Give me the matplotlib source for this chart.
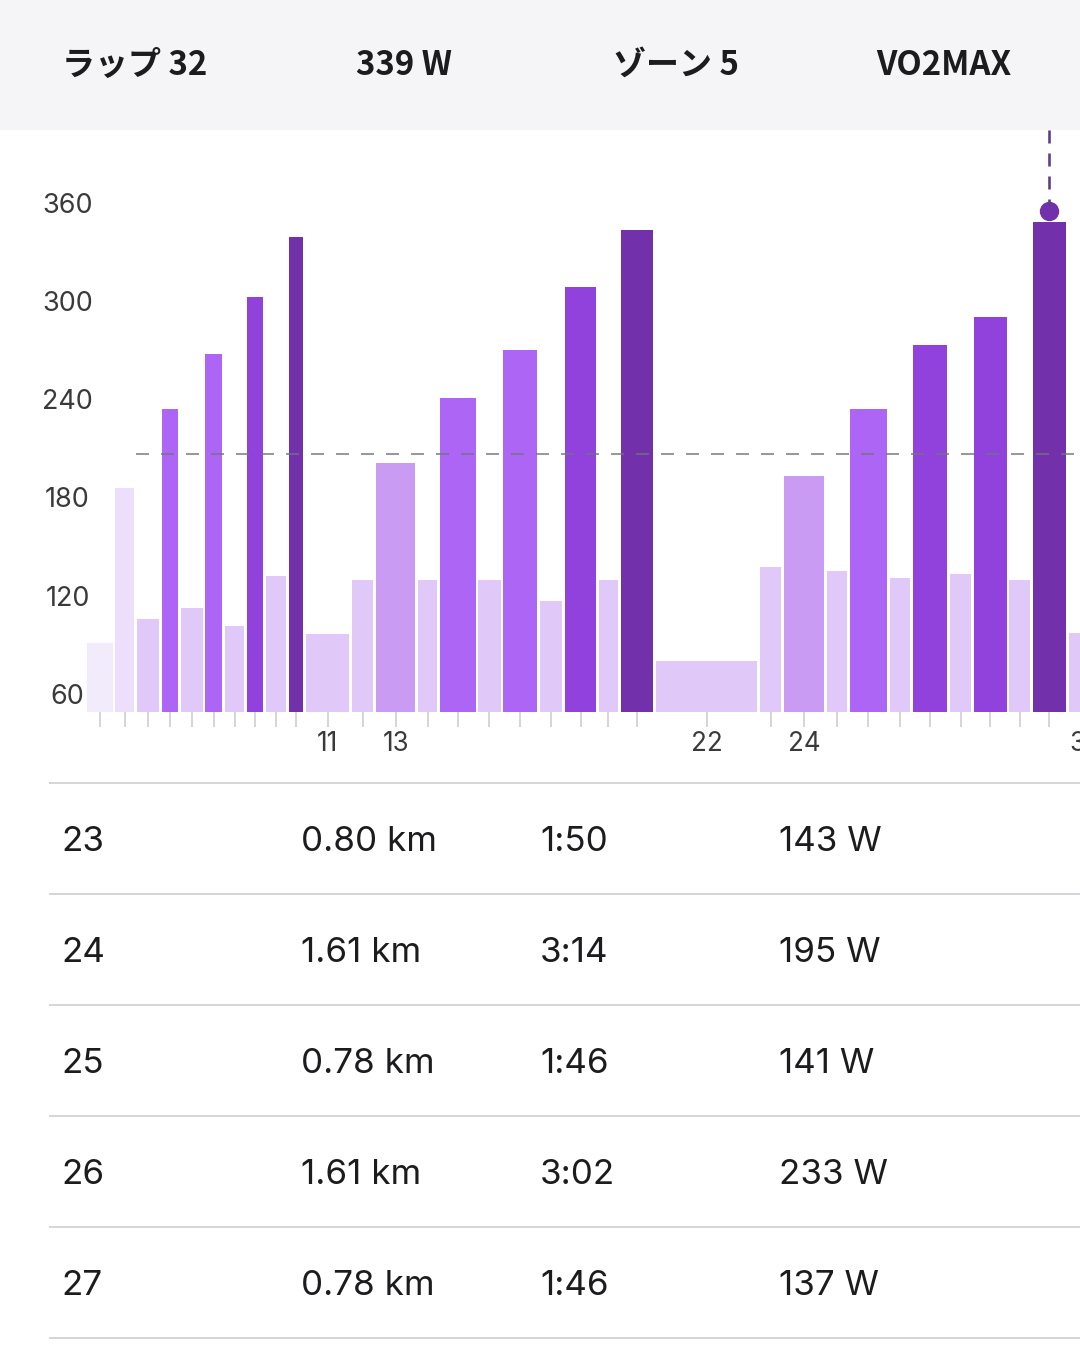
import matplotlib
matplotlib.use("Agg")
import matplotlib.pyplot as plt
import matplotlib.transforms as mtransforms
from matplotlib.patches import Rectangle
from matplotlib.lines import Line2D
import numpy as np

# ---------------- data ----------------
lap_numbers = list(range(1, 34))
lap_seconds = [128, 100, 113, 88, 110, 90, 100, 88, 104, 79,
               210, 110, 190, 102, 175, 114, 168, 114, 155, 100,
               160, 477, 110, 194, 106, 182, 106, 170, 110, 161,
               106, 166, 165]
lap_power = [100, 188, 114, 233, 120, 264, 110, 296, 138, 330,
             105, 136, 202, 136, 239, 136, 266, 124, 302, 136,
             334, 90, 143, 195, 141, 233, 137, 269, 139, 285,
             136, 339, 106]
lap_zone = [0, 1, 2, 4, 2, 4, 2, 5, 2, 6,
            2, 2, 3, 2, 4, 2, 4, 2, 5, 2,
            6, 2, 2, 3, 2, 4, 2, 5, 2, 5,
            2, 6, 2]
labeled_laps = [11, 13, 22, 24, 33]
y_tick_values = [60, 120, 180, 240, 300, 360]
ref_power = 207
selected_lap = 32

header_items = ["ラップ 32", "339 W", "ゾーン 5", "VO2MAX"]
table_lap = ["23", "24", "25", "26", "27"]
table_dist = ["0.80 km", "1.61 km", "0.78 km", "1.61 km", "0.78 km"]
table_time = ["1:50", "3:14", "1:46", "3:02", "1:46"]
table_power = ["143 W", "195 W", "141 W", "233 W", "137 W"]

zone_colors = ["#F2EBFC", "#EDDFFB", "#E0C9F8", "#C99BF3",
               "#AD65F6", "#9142DC", "#7231AA"]

# ---------------- layout ----------------
FIG_W, FIG_H, DPI = 1080, 1350, 100
PT = 72.0 / DPI
PX_PER_S = 0.2188
PX_PER_W = 1.764
AX_L, AX_R, AX_B, AX_T = 86, 1140, 712, 130
Y_MIN = 61

plt.rcParams['lines.scale_dashes'] = False
LATIN = ['Inter', 'DejaVu Sans']
CJK = ['Noto Sans CJK JP', 'DejaVu Sans']


def fx(px):
    return px / FIG_W


def fy(py):
    return 1 - py / FIG_H


fig = plt.figure(figsize=(FIG_W / DPI, FIG_H / DPI), dpi=DPI)
fig.patch.set_facecolor('white')

# header band
fig.patches.append(Rectangle((0, fy(130)), 1, 130 / FIG_H, transform=fig.transFigure,
                             facecolor='#F5F5F7', edgecolor='none', zorder=0))
header_x = [135, 404, 676, 944]
for txt, hx in zip(header_items, header_x):
    fig.text(fx(hx), fy(75), txt, ha='center', va='baseline', fontsize=33 * PT,
             fontweight='bold', family=CJK, color='#1C1C1E')

# main axes
box = [fx(AX_L), fy(AX_B), (AX_R - AX_L) / FIG_W, (AX_B - AX_T) / FIG_H]
ax = fig.add_axes(box)
x_max = (AX_R - AX_L) / PX_PER_S
y_max = Y_MIN + (AX_B - AX_T) / PX_PER_W
ax.set_xlim(0, x_max)
ax.set_ylim(Y_MIN, y_max)
for s in ax.spines.values():
    s.set_visible(False)
ax.set_facecolor('none')

secs = np.array(lap_seconds, dtype=float)
starts = np.concatenate([[0.0], np.cumsum(secs)[:-1]])
centers = starts + secs / 2
gap = 2.8 / PX_PER_S
colors = [zone_colors[z] for z in lap_zone]
ax.bar(starts + gap / 2, lap_power, width=secs - gap, align='edge',
       color=colors, edgecolor='none', zorder=2)

ax.set_xticks(centers)
ax.set_xticklabels([str(n) if n in labeled_laps else '' for n in lap_numbers])
ax.tick_params(axis='x', length=15 * PT, width=2 * PT, color='#D6D6DA',
               pad=4 * PT, labelsize=26 * PT, labelcolor='#3A3A3C')
for lbl in ax.get_xticklabels():
    lbl.set_fontfamily(LATIN)
ax.set_yticks([])

# reference dashed line
ax.hlines(ref_power, starts[2], x_max, colors='#737379', linewidth=1.7 * PT,
          linestyles=[(0, (13 * PT, 12 * PT))], zorder=3, alpha=0.85)

# selected lap marker
i = lap_numbers.index(selected_lap)
c, p = centers[i], lap_power[i]
dot_tr = mtransforms.offset_copy(ax.transData, fig=fig, x=0, y=10.5, units='dots')
ax.plot([c], [p], 'o', ms=18 * PT, color=zone_colors[6], transform=dot_tr,
        zorder=4, clip_on=False)
ax.plot([c, c], [y_max, p + 17 / PX_PER_W], color='#5B3E84', lw=2.6 * PT,
        linestyle=(0, (13 * PT, 10 * PT)), zorder=4)

# y labels (the app's label scale)
lab = fig.add_axes(box)
S2 = (694 - 203) / 300.0
lab.set_ylim(60 - (AX_B - 694) / S2, 60 + (694 - AX_T) / S2)
lab.axis('off')
tr = mtransforms.blended_transform_factory(fig.transFigure, lab.transData)
tr = mtransforms.offset_copy(tr, fig=fig, x=0, y=-9.8, units='dots')
for v in y_tick_values:
    lab.text(fx(67.5), v, str(v), transform=tr, ha='center', va='baseline',
             fontsize=27 * PT, family=LATIN, color='#3A3A3C')

# table
row_lines = [783, 894, 1005, 1116, 1227, 1338]
for ly in row_lines:
    fig.add_artist(Line2D([fx(50), 1], [fy(ly), fy(ly)], transform=fig.transFigure,
                          color='#D6D6DA', lw=2 * PT))
col_x = [61, 301, 540, 779]
for r in range(len(table_lap)):
    cy = (row_lines[r] + row_lines[r + 1]) / 2
    for cx, col in zip(col_x, [table_lap, table_dist, table_time, table_power]):
        fig.text(fx(cx), fy(cy + 12.7), col[r], ha='left', va='baseline',
                 fontsize=35 * PT, family=LATIN, color='#1C1C1E')

fig.savefig('out.png', dpi=DPI)
